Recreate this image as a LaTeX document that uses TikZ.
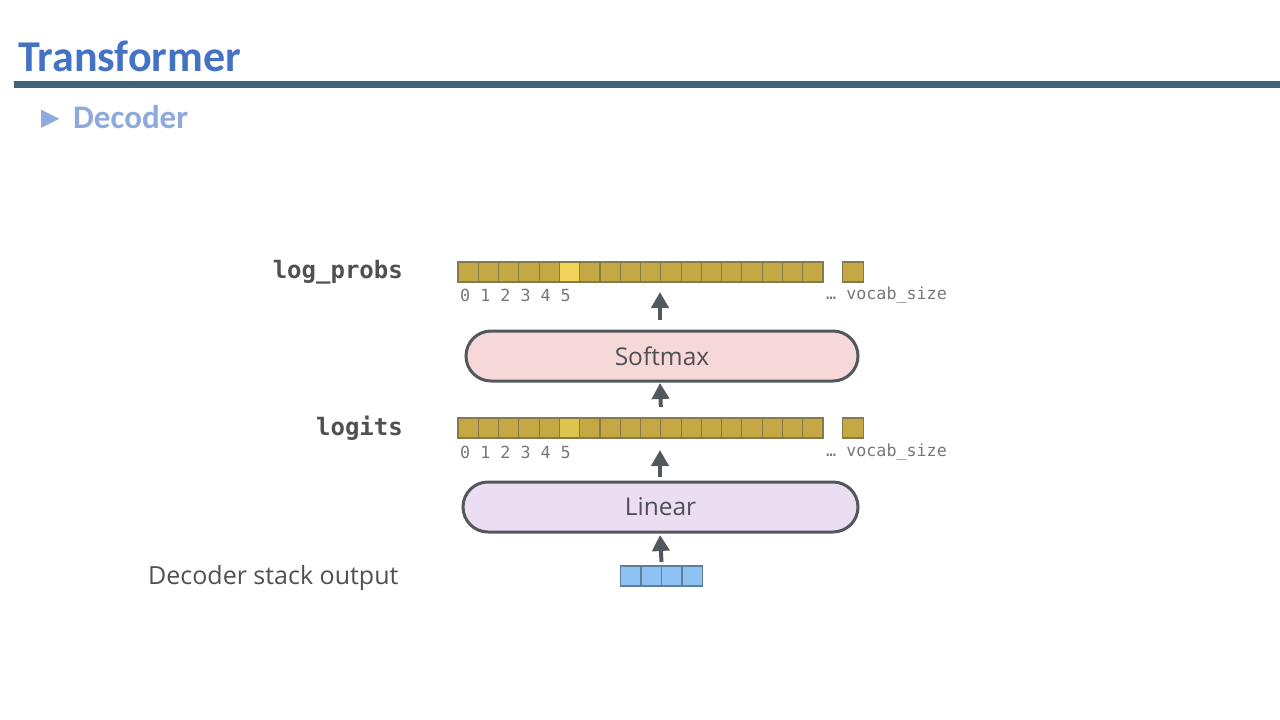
\documentclass[tikz,border=0pt]{standalone}
\usepackage{fontspec}
\setmainfont{Open Sans}
\newfontfamily\titlefont{Carlito}
\newfontfamily\codefont{DejaVu Sans Mono}
\newfontfamily\symfont{DejaVu Sans}
\usetikzlibrary{arrows.meta}
\definecolor{titleblue}{HTML}{4472C4}
\definecolor{subblue}{HTML}{8EA9DB}
\definecolor{rulecol}{HTML}{3F6374}
\definecolor{gold}{HTML}{C4A843}
\definecolor{goldedge}{HTML}{857A4E}
\definecolor{goldhi}{HTML}{F2D359}
\definecolor{goldmid}{HTML}{DEC34E}
\definecolor{bluecell}{HTML}{8EC1F4}
\definecolor{blueedge}{HTML}{5E7E9E}
\definecolor{boxedge}{HTML}{53575E}
\definecolor{softfill}{HTML}{F5D8D7}
\definecolor{linfill}{HTML}{EBDEF3}
\definecolor{txtgray}{HTML}{4E5054}
\definecolor{lblgray}{HTML}{75777B}
\tikzset{
  cellbox/.style={draw=goldedge, fill=gold, line width=1.1pt, minimum width=20.28pt, minimum height=20pt, inner sep=0pt, outer sep=0pt},
  bcell/.style={draw=blueedge, fill=bluecell, line width=1.1pt, minimum width=20.5pt, minimum height=20pt, inner sep=0pt, outer sep=0pt},
  layerbox/.style={draw=boxedge, line width=3pt, rounded corners=25pt, minimum height=50pt, inner sep=0pt, font=\fontsize{24.5}{28}\selectfont, text=txtgray},
  uparrow/.style={draw=boxedge, line width=4pt, -{Triangle[width=17pt,length=16pt]}},
  rowlabel/.style={font=\codefont\bfseries\fontsize{24}{28}\selectfont, text=txtgray, anchor=east, inner sep=0pt},
  idxlabel/.style={font=\codefont\fontsize{16.7}{20}\selectfont, text=lblgray, anchor=west, inner sep=0pt}
}
\begin{document}
\begin{tikzpicture}[x=1pt, y=-1pt]
\useasboundingbox (0,0) rectangle (1280,720);
% header
\node[anchor=base west, inner sep=0pt, font=\titlefont\bfseries\fontsize{44}{48}\selectfont, text=titleblue] (title) at (18,71) {Transformer};
\fill[rulecol] (14,80.5) rectangle (1280,87.5);
\node[anchor=west, inner sep=0pt, font=\symfont\fontsize{24}{28}\selectfont, text=subblue] (tri) at (41,119) {▶};
\node[anchor=base west, inner sep=0pt, font=\titlefont\bfseries\fontsize{33}{38}\selectfont, text=subblue] (sub) at (73,128) {Decoder};
% log_probs row
\node[rowlabel] (lplabel) at (403,272) {log\_probs};
\foreach \i in {0,...,17} {
  \node[cellbox] (lp\i) at ({458+20.28*\i+10.14},272) {};
}
\node[cellbox, fill=goldhi] at (lp5) {};
\node[cellbox] (lpend) at (853,272) {};
\node[idxlabel] (lpidx) at (460,295) {0 1 2 3 4 5};
\node[idxlabel] (lpvoc) at (826,295) {… vocab\_size};
% softmax
\node[layerbox, fill=softfill, minimum width=392pt] (softmax) at (662,356) {Softmax};
% logits row
\node[rowlabel] (lglabel) at (403,428) {logits};
\foreach \i in {0,...,17} {
  \node[cellbox] (lg\i) at ({458+20.28*\i+10.14},428) {};
}
\node[cellbox, fill=goldmid] at (lg5) {};
\node[cellbox] (lgend) at (853,428) {};
\node[idxlabel] (lgidx) at (460,452) {0 1 2 3 4 5};
\node[idxlabel] (lgvoc) at (826,452) {… vocab\_size};
% linear
\node[layerbox, fill=linfill, minimum width=395pt] (linear) at (660.5,507) {Linear};
% decoder output
\node[anchor=west, inner sep=0pt, font=\fontsize{25}{29}\selectfont, text=txtgray] (declabel) at (148,578) {Decoder stack output};
\foreach \i in {0,...,3} {
  \node[bcell] (d\i) at ({620.5+20.5*\i+10.25},576) {};
}
% arrows
\coordinate (a1s) at (660,320); \coordinate (a1e) at (660,292);
\coordinate (a2e) at (660,383);
\coordinate (a3e) at (660,450);
\coordinate (a4e) at (660,535);
\draw[uparrow] (a1s) -- (a1e);
\draw[uparrow] (lg10.north west) ++(0,-11) -- (a2e);
\draw[uparrow] (linear.north -| a3e) ++(0,-4) -- (a3e);
\draw[uparrow] (d1.north east) ++(0,-4) -- (a4e);
\end{tikzpicture}
\end{document}
